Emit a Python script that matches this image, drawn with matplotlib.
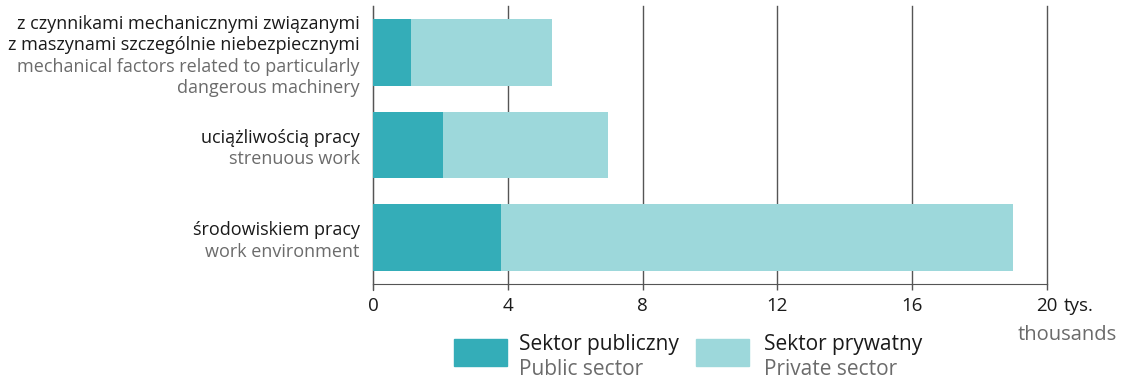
import matplotlib
matplotlib.use("Agg")
import matplotlib.pyplot as plt
from matplotlib.patches import Rectangle
import numpy as np

# data (thousands)
cat_pl = [["z czynnikami mechanicznymi związanymi", "z maszynami szczególnie niebezpiecznymi"],
          ["uciążliwością pracy"],
          ["środowiskiem pracy"]]
cat_en = [["mechanical factors related to particularly", "dangerous machinery"],
          ["strenuous work"],
          ["work environment"]]
public = [1.13, 2.08, 3.79]
private = [4.19, 4.90, 15.21]
xticks = [0, 4, 8, 12, 16, 20]

C_PUB = "#34adb8"
C_PRIV = "#9dd8db"
BLACK = "#1a1a1a"
GRAY = "#6b6b6b"
FONT = "Open Sans"

plt.rcParams["font.family"] = FONT

fig = plt.figure(figsize=(11.27, 3.79), dpi=100)
W, H = 1127, 379
ax = fig.add_axes([373 / W, 1 - 284 / H, (1047 - 373) / W, (284 - 6) / H])

y = np.arange(len(public))
ax.barh(y, public, height=0.72, color=C_PUB, zorder=3)
ax.barh(y, private, left=public, height=0.72, color=C_PRIV, zorder=3)

ax.set_xlim(0, 20)
ax.set_ylim(2.5, -0.5)
ax.set_xticks(xticks)
ax.set_xticklabels([str(t) for t in xticks], fontsize=13.5, color=BLACK)
ax.set_yticks([])
ax.xaxis.grid(True, color="#555555", linewidth=1, zorder=0)
for gl in ax.get_xgridlines():
    gl.set_clip_on(False)
for s in ["top", "right"]:
    ax.spines[s].set_visible(False)
ax.spines["left"].set_color("#555555")
ax.spines["bottom"].set_color("#555555")
ax.spines["left"].set_bounds(2.57, -0.5)
ax.tick_params(axis="x", length=4.5, width=1, color="#555555", pad=5)

# category labels
line_h = 15.5
for i in range(len(public)):
    lines = [(t, BLACK) for t in cat_pl[i]] + [(t, GRAY) for t in cat_en[i]]
    n = len(lines)
    for k, (txt, col) in enumerate(lines):
        off = ((n - 1) / 2 - k) * line_h - 2.5
        ax.annotate(txt, xy=(0, i), xycoords=("axes fraction", "data"),
                    xytext=(-9.5, off), textcoords="offset points",
                    ha="right", va="center", fontsize=13, color=col)

# unit labels
ax.annotate("tys.", xy=(20, 0), xycoords=("data", "axes fraction"),
            xytext=(12, -9.5), textcoords="offset points",
            ha="left", va="top", fontsize=13.5, color=BLACK)
ax.annotate("thousands", xy=(20, 0), xycoords=("data", "axes fraction"),
            xytext=(50.4, -40.5), textcoords="offset points",
            ha="right", va="baseline", fontsize=14.5, color=GRAY)

# legend
items = [(C_PUB, "Sektor publiczny", "Public sector", 454, 519),
         (C_PRIV, "Sektor prywatny", "Private sector", 696, 764)]
for col, pl, en, sx, tx in items:
    fig.patches.append(Rectangle((sx / W, 1 - 366 / H), 53 / W, 27 / H,
                                 transform=fig.transFigure, color=col))
    fig.text(tx / W, 1 - 350 / H, pl, fontsize=15, color=BLACK, va="baseline")
    fig.text(tx / W, 1 - 375 / H, en, fontsize=15, color=GRAY, va="baseline")

fig.savefig("out.png", dpi=100)
